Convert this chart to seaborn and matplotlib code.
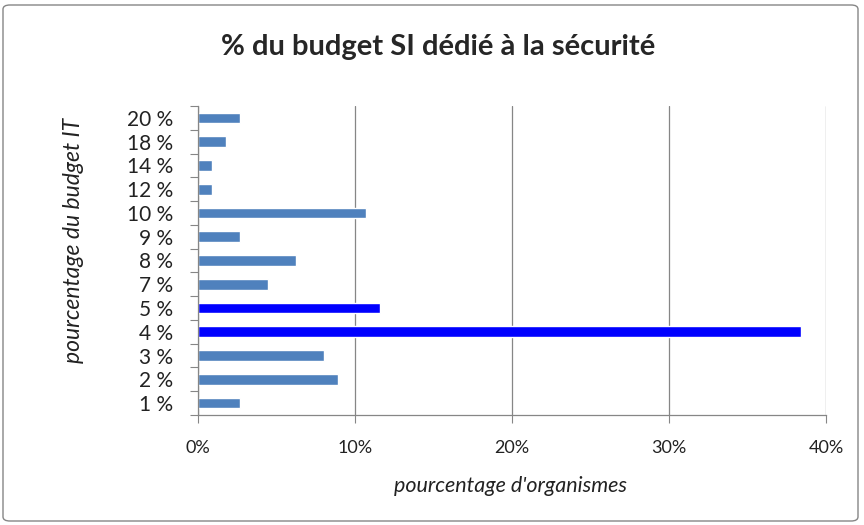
import numpy as np
import pandas as pd
import matplotlib
matplotlib.use('Agg')
import matplotlib.pyplot as plt
import seaborn as sns
from matplotlib.patches import FancyBboxPatch
from matplotlib.ticker import FixedLocator, PercentFormatter

# data (share of organisations per budget bracket)
categories = ['1 %', '2 %', '3 %', '4 %', '5 %', '7 %', '8 %', '9 %',
              '10 %', '12 %', '14 %', '18 %', '20 %']
shares = [2.68, 8.93, 8.04, 38.39, 11.61, 4.46, 6.25, 2.68,
          10.71, 0.89, 0.89, 1.79, 2.68]
highlight = ['4 %', '5 %']
x_ticks = [0, 10, 20, 30, 40]

sns.set_style('white')
plt.rcParams['font.family'] = ['Lato', 'DejaVu Sans']

df = pd.DataFrame({'budget': categories, 'share': shares})
order = categories[::-1]
palette = {c: ('#0000FF' if c in highlight else '#4F81BD') for c in categories}

fig = plt.figure(figsize=(8.64, 5.25), dpi=100)
ax = fig.add_axes([198 / 864, 1 - 415 / 525, 628 / 864, 309 / 525])

sns.barplot(data=df, x='share', y='budget', hue='budget', order=order,
            palette=palette, orient='h', width=0.45, legend=False,
            saturation=1, ax=ax)

ax.set_xlim(0, 40)
ax.set_ylim(len(order) - 0.5, -0.5)
ax.xaxis.set_major_locator(FixedLocator(x_ticks))
ax.xaxis.set_major_formatter(PercentFormatter(decimals=0))
ax.grid(axis='x', color='#868686', linewidth=0.9)
ax.set_axisbelow(True)

# category ticks at boundaries, labels at the centres
ax.set_yticks(np.arange(len(order) + 1) - 0.5)
ax.set_yticklabels([])
ax.set_yticks(np.arange(len(order)), minor=True)
ax.set_yticklabels(order, minor=True, fontsize=15, color='#222222')
ax.tick_params(axis='y', which='major', length=6, color='#868686', direction='out', left=True)
ax.tick_params(axis='y', which='minor', length=0, pad=18)
ax.tick_params(axis='x', length=6, color='#868686', direction='out', bottom=True,
               labelsize=13, pad=12, labelcolor='#222222')

for s in ['top', 'right']:
    ax.spines[s].set_visible(False)
for s in ['left', 'bottom']:
    ax.spines[s].set_color('#868686')
    ax.spines[s].set_linewidth(0.9)

ax.set_xlabel("pourcentage d'organismes", fontsize=15.5, style='italic',
              color='#222222')
ax.set_ylabel('pourcentage du budget IT', fontsize=16.5, style='italic',
              color='#222222')
ax.xaxis.set_label_coords((510 - 198) / 628, -(476 - 415) / 309)
ax.yaxis.set_label_coords(-(198 - 84) / 628, (415 - 240) / 309)

fig.text(438 / 864, 1 - 47 / 525, '% du budget SI dédié à la sécurité',
         ha='center', va='center', fontsize=21, fontweight='bold')

border = FancyBboxPatch((3 / 864, 4 / 525), 855 / 864, 516 / 525,
                        boxstyle='round,pad=0,rounding_size=0.008',
                        transform=fig.transFigure, fill=False,
                        edgecolor='#868686', linewidth=1.0)
fig.patches.append(border)

fig.savefig('out.png', dpi=100)
